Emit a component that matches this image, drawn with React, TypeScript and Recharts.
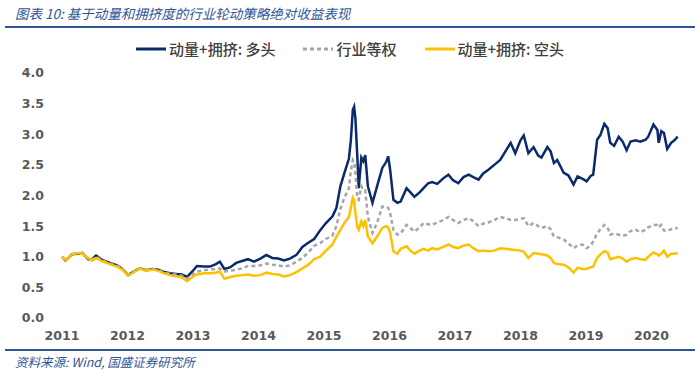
import { LineChart, Line, XAxis, YAxis } from "recharts";

// fractional years
const dates = [
  2011.0, 2011.05, 2011.09, 2011.15, 2011.24, 2011.31, 2011.4, 2011.46, 2011.52, 2011.61,
  2011.73, 2011.84, 2011.92, 2012.01, 2012.1, 2012.19, 2012.28, 2012.38, 2012.47, 2012.56,
  2012.65, 2012.74, 2012.83, 2012.91, 2012.99, 2013.06, 2013.17, 2013.26, 2013.35, 2013.41,
  2013.48, 2013.57, 2013.66, 2013.75, 2013.84, 2013.93, 2014.03, 2014.12, 2014.21, 2014.3,
  2014.39, 2014.48, 2014.58, 2014.67, 2014.76, 2014.85, 2014.94, 2015.03, 2015.13, 2015.19,
  2015.25, 2015.31, 2015.38, 2015.41, 2015.44, 2015.46, 2015.48, 2015.51, 2015.53, 2015.57,
  2015.6, 2015.63, 2015.67, 2015.74, 2015.81, 2015.89, 2015.95, 2015.98, 2016.01, 2016.06,
  2016.12, 2016.17, 2016.26, 2016.32, 2016.38, 2016.46, 2016.52, 2016.59, 2016.65, 2016.73,
  2016.82, 2016.9, 2016.97, 2017.05, 2017.13, 2017.21, 2017.28, 2017.36, 2017.43, 2017.51,
  2017.6, 2017.69, 2017.77, 2017.85, 2017.92, 2018.0, 2018.05, 2018.12, 2018.2, 2018.27,
  2018.32, 2018.41, 2018.46, 2018.51, 2018.56, 2018.66, 2018.73, 2018.81, 2018.87, 2018.95,
  2019.01, 2019.07, 2019.11, 2019.17, 2019.22, 2019.28, 2019.33, 2019.37, 2019.43, 2019.5,
  2019.56, 2019.62, 2019.68, 2019.76, 2019.83, 2019.91, 2019.95, 2020.03, 2020.09, 2020.11,
  2020.15, 2020.19, 2020.24, 2020.3, 2020.35, 2020.4,
];

const longLeg = [
  1.0, 0.94, 0.97, 1.04, 1.05, 1.06, 0.96, 0.96, 1.02, 0.95,
  0.9, 0.86, 0.8, 0.7, 0.76, 0.81, 0.78, 0.8, 0.79, 0.75,
  0.73, 0.72, 0.71, 0.67, 0.76, 0.85, 0.84, 0.84, 0.88, 0.92,
  0.8, 0.83, 0.9, 0.93, 0.96, 0.92, 0.97, 1.03, 0.98, 0.97,
  0.94, 0.97, 1.03, 1.16, 1.23, 1.29, 1.43, 1.55, 1.66, 1.8,
  2.15, 2.36, 2.6, 2.9, 3.4, 3.45, 3.25, 2.6, 2.12, 2.62,
  2.56, 2.66, 2.15, 1.88, 2.15, 2.45, 2.55, 2.64, 2.42, 1.93,
  1.88, 1.9, 2.12, 2.05, 1.98, 2.05, 2.12, 2.2, 2.22, 2.19,
  2.28, 2.34, 2.25, 2.2, 2.3, 2.34, 2.3, 2.26, 2.36, 2.42,
  2.5, 2.58, 2.72, 2.86, 2.69, 2.9, 2.98, 2.69, 2.79, 2.65,
  2.62, 2.79, 2.72, 2.53, 2.58, 2.37, 2.33, 2.18, 2.31, 2.27,
  2.23, 2.32, 2.34, 2.91, 2.99, 3.17, 3.1, 2.86, 2.81, 2.96,
  2.88, 2.74, 2.88, 2.9, 2.88, 2.91, 2.96, 3.16, 3.07, 2.86,
  3.05, 3.02, 2.76, 2.86, 2.9, 2.96,
];

const equalWeight = [
  1.0, 0.95, 0.97, 1.04, 1.06, 1.06, 0.97, 0.95, 1.0, 0.94,
  0.89, 0.85, 0.8, 0.7, 0.76, 0.81, 0.78, 0.8, 0.78, 0.74,
  0.72, 0.71, 0.69, 0.64, 0.71, 0.76, 0.78, 0.79, 0.8, 0.81,
  0.76, 0.77, 0.79, 0.81, 0.85, 0.85, 0.86, 0.89, 0.87, 0.86,
  0.84, 0.86, 0.92, 0.98, 1.07, 1.18, 1.22, 1.29, 1.35, 1.5,
  1.78, 1.96, 2.12, 2.4, 2.58, 2.55, 2.37, 1.95, 1.93, 2.15,
  2.08, 2.08, 1.65, 1.39, 1.55, 1.82, 1.82, 1.8, 1.71, 1.44,
  1.36, 1.38, 1.52, 1.47, 1.41, 1.48, 1.55, 1.53, 1.52, 1.56,
  1.6, 1.65, 1.6, 1.55, 1.6, 1.63, 1.58, 1.5, 1.54, 1.56,
  1.6, 1.65, 1.63, 1.6, 1.6, 1.62, 1.63, 1.5, 1.55, 1.5,
  1.47, 1.5, 1.45, 1.33, 1.32, 1.28, 1.22, 1.14, 1.18, 1.2,
  1.14, 1.18, 1.25, 1.38, 1.45, 1.52, 1.48, 1.36, 1.38, 1.36,
  1.34, 1.36, 1.42, 1.44, 1.4, 1.44, 1.48, 1.52, 1.52, 1.48,
  1.52, 1.43, 1.42, 1.45, 1.46, 1.47,
];

const shortLeg = [
  1.0, 0.95, 0.96, 1.04, 1.06, 1.05, 0.98, 0.94, 0.98, 0.93,
  0.88, 0.84, 0.79, 0.69, 0.75, 0.81, 0.77, 0.79, 0.77, 0.73,
  0.7, 0.68, 0.66, 0.6, 0.67, 0.71, 0.73, 0.73, 0.74, 0.76,
  0.64, 0.67, 0.69, 0.7, 0.71, 0.69, 0.7, 0.74, 0.72, 0.71,
  0.68, 0.7, 0.75, 0.81, 0.87, 0.96, 1.0, 1.1, 1.2, 1.33,
  1.44, 1.55, 1.65, 1.8, 1.96, 1.92, 1.71, 1.48, 1.44, 1.58,
  1.5, 1.6, 1.33, 1.22, 1.33, 1.47, 1.5, 1.48, 1.39, 1.09,
  1.05, 1.13, 1.17, 1.1, 1.05, 1.1, 1.13, 1.1, 1.14, 1.12,
  1.16, 1.2, 1.16, 1.14, 1.18, 1.2, 1.14, 1.09, 1.1, 1.09,
  1.1, 1.14, 1.13, 1.12, 1.11, 1.1, 1.08, 0.98, 1.06, 1.05,
  1.04, 1.02, 0.98, 0.9, 0.88, 0.87, 0.83, 0.74, 0.82, 0.8,
  0.8, 0.83, 0.84, 0.98, 1.04, 1.09, 1.07, 0.96, 0.98, 1.0,
  0.97, 0.92, 0.96, 0.98, 0.96, 0.95, 1.0, 1.07, 1.04, 1.02,
  1.05, 1.1, 1.0, 1.05, 1.05, 1.06,
];

const yearTicks = [2011, 2012, 2013, 2014, 2015, 2016, 2017, 2018, 2019, 2020];
const valueTicks = [0, 0.5, 1, 1.5, 2, 2.5, 3, 3.5, 4];

const data = dates.map((t, i) => ({
  t,
  long: longLeg[i],
  equal: equalWeight[i],
  short: shortLeg[i],
}));

const series = [
  { key: "long", name: "动量+拥挤: 多头", color: "#0B2A6B", dash: undefined },
  { key: "equal", name: "行业等权", color: "#A6A6A6", dash: "4 3" },
  { key: "short", name: "动量+拥挤: 空头", color: "#FFC000", dash: undefined },
];

const BLUE = "#2F5597";
const CJK = '"Noto Sans CJK SC", "Noto Sans", sans-serif';
const NUM = '"DejaVu Sans", Verdana, sans-serif';

function LegendRow() {
  return (
    <div
      style={{
        position: "absolute",
        left: 0,
        top: 38,
        width: 700,
        display: "flex",
        justifyContent: "center",
        fontFamily: CJK,
        fontSize: 15,
        fontWeight: 500,
        color: "#404040",
      }}
    >
      {series.map((s) => (
        <div key={s.key} style={{ display: "flex", alignItems: "center", margin: "0 14px" }}>
          <svg width={30} height={10} style={{ marginRight: 3 }}>
            <line x1={0} y1={5} x2={30} y2={5} stroke={s.color} strokeWidth={3} strokeDasharray={s.dash} />
          </svg>
          <span>{s.name}</span>
        </div>
      ))}
    </div>
  );
}

export default function App() {
  return (
    <div style={{ position: "absolute", left: 0, top: 0, width: 700, height: 373, background: "#fff", overflow: "hidden" }}>
      <div
        style={{
          position: "absolute",
          left: 15,
          top: 3,
          fontFamily: CJK,
          fontStyle: "italic",
          fontSize: 13.5,
          color: BLUE,
          whiteSpace: "nowrap",
        }}
      >
        图表 10: 基于动量和拥挤度的行业轮动策略绝对收益表现
      </div>
      <div style={{ position: "absolute", left: 5, top: 26, width: 690, height: 2, background: BLUE }} />

      <LegendRow />

      <div style={{ position: "absolute", left: 0, top: 0 }}>
        <LineChart width={700} height={373} data={data} margin={{ top: 73, right: 21, left: 0, bottom: 0 }}>
          <XAxis
            dataKey="t"
            type="number"
            domain={[2011, 2020.42]}
            ticks={yearTicks}
            axisLine={false}
            tickLine={false}
            tickMargin={7}
            height={55}
            interval={0}
            tick={{ fill: "#595959", fontSize: 12.5, fontWeight: 700, fontFamily: NUM }}
          />
          <YAxis
            type="number"
            domain={[0, 4]}
            ticks={valueTicks}
            width={62}
            axisLine={false}
            tickLine={false}
            tickMargin={12}
            tickFormatter={(v: number) => v.toFixed(1)}
            tick={{ fill: "#595959", fontSize: 12.5, fontWeight: 700, fontFamily: NUM }}
          />
          {series.map((s) => (
            <Line
              key={s.key}
              type="linear"
              dataKey={s.key}
              name={s.name}
              stroke={s.color}
              strokeWidth={2.5}
              strokeDasharray={s.dash}
              dot={false}
              isAnimationActive={false}
            />
          ))}
        </LineChart>
      </div>

      <div style={{ position: "absolute", left: 5, top: 349, width: 690, height: 2, background: BLUE }} />
      <div
        style={{
          position: "absolute",
          left: 15,
          top: 352,
          fontFamily: CJK,
          fontStyle: "italic",
          fontSize: 12.5,
          color: BLUE,
          whiteSpace: "nowrap",
        }}
      >
        资料来源: Wind, 国盛证券研究所
      </div>
    </div>
  );
}
